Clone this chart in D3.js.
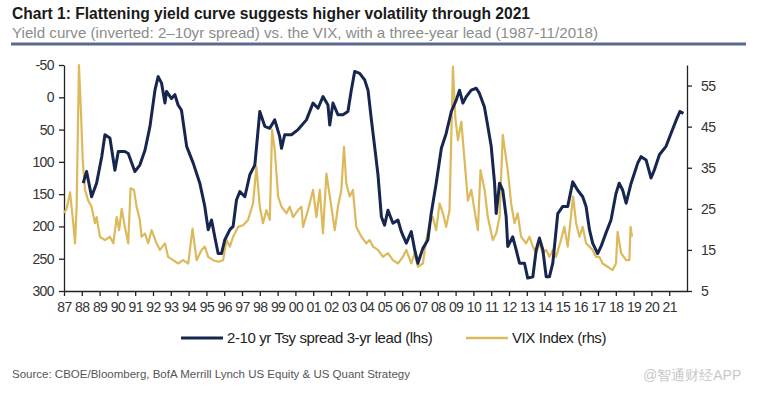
<!DOCTYPE html>
<html>
<head>
<meta charset="utf-8">
<script src="https://cdn.jsdelivr.net/npm/d3@7"></script>
<style>
  body { margin: 0; background: #fff; }
  svg text { font-family: "Liberation Sans", Arial, sans-serif; }
</style>
</head>
<body>
<svg id="chart" width="757" height="396"></svg>
<script>
// 2-10yr spread, 3-yr lead (lhs, bp, inverted axis)
const spreadYears = [1988.08, 1988.27, 1988.55, 1988.83, 1989.12, 1989.30, 1989.58, 1989.86, 1990.05, 1990.42,
  1990.61, 1990.98, 1991.26, 1991.55, 1991.83, 1992.11, 1992.29, 1992.48, 1992.67, 1992.76,
  1993.04, 1993.23, 1993.41, 1993.60, 1993.89, 1994.26, 1994.63, 1994.91, 1995.10, 1995.29,
  1995.47, 1995.66, 1995.85, 1996.03, 1996.32, 1996.50, 1996.69, 1996.88, 1997.16, 1997.44,
  1997.72, 1998.00, 1998.28, 1998.56, 1998.84, 1999.12, 1999.22, 1999.40, 1999.78, 2000.15,
  2000.62, 2000.99, 2001.27, 2001.55, 2001.83, 2001.93, 2002.11, 2002.39, 2002.67, 2002.95,
  2003.14, 2003.33, 2003.61, 2003.89, 2004.08, 2004.27, 2004.45, 2004.64, 2004.83, 2005.01,
  2005.20, 2005.48, 2005.76, 2005.95, 2006.23, 2006.51, 2006.70, 2006.88, 2007.16, 2007.44,
  2007.63, 2007.91, 2008.20, 2008.47, 2008.76, 2009.04, 2009.22, 2009.41, 2009.60, 2009.88,
  2010.16, 2010.34, 2010.62, 2010.81, 2011.00, 2011.19, 2011.28, 2011.47, 2011.65, 2011.84,
  2011.93, 2012.21, 2012.40, 2012.59, 2012.87, 2013.05, 2013.34, 2013.53, 2013.71, 2013.90,
  2014.09, 2014.27, 2014.46, 2014.74, 2015.02, 2015.30, 2015.58, 2015.86, 2016.14, 2016.33,
  2016.52, 2016.70, 2016.98, 2017.17, 2017.45, 2017.73, 2018.01, 2018.19, 2018.39, 2018.58,
  2018.86, 2019.04, 2019.23, 2019.42, 2019.70, 2019.98, 2020.16, 2020.45, 2020.82, 2021.10,
  2021.40, 2021.60, 2021.80];
const spreadValues = [133, 115, 154, 133, 92, 58, 63, 113, 84, 84,
  87, 115, 105, 82, 45, -11, -32, -22, 9, -9,
  2, -4, 12, 20, 76, 102, 133, 169, 205, 190,
  216, 242, 242, 221, 205, 200, 159, 146, 154, 120,
  105, 22, 45, 48, 35, 61, 79, 58, 58, 50,
  35, 9, 17, -1, 12, 43, 9, 27, 27, 22,
  -11, -40, -37, -27, -11, 35, 76, 120, 185, 198,
  175, 195, 190, 208, 226, 208, 236, 257, 234, 221,
  180, 133, 79, 56, 22, 4, -11, 9, -1, -11,
  -14, -6, 15, 45, 76, 133, 180, 133, 144, 185,
  231, 216, 236, 257, 257, 280, 278, 236, 218, 236,
  278, 278, 257, 180, 169, 169, 131, 144, 154, 169,
  205, 226, 242, 231, 210, 190, 149, 133, 144, 164,
  133, 118, 102, 92, 97, 125, 113, 89, 76, 56,
  35, 22, 25];

// VIX index (rhs)
const vixYears = [1987.00, 1987.15, 1987.34, 1987.52, 1987.62, 1987.71, 1987.84, 1987.95, 1988.05, 1988.18,
  1988.36, 1988.55, 1988.74, 1988.83, 1989.02, 1989.30, 1989.58, 1989.77, 1989.96, 1990.10,
  1990.24, 1990.42, 1990.61, 1990.74, 1990.93, 1991.08, 1991.26, 1991.36, 1991.55, 1991.73,
  1991.92, 1992.20, 1992.39, 1992.67, 1992.85, 1993.13, 1993.41, 1993.69, 1993.98, 1994.22,
  1994.45, 1994.73, 1994.91, 1995.10, 1995.38, 1995.66, 1995.94, 1996.13, 1996.32, 1996.50,
  1996.78, 1997.06, 1997.34, 1997.62, 1997.81, 1998.00, 1998.18, 1998.37, 1998.56, 1998.69,
  1998.84, 1999.03, 1999.22, 1999.50, 1999.68, 1999.87, 2000.15, 2000.34, 2000.43, 2000.71,
  2000.99, 2001.18, 2001.37, 2001.55, 2001.74, 2002.02, 2002.21, 2002.39, 2002.58, 2002.73,
  2002.86, 2003.05, 2003.23, 2003.42, 2003.71, 2003.99, 2004.17, 2004.36, 2004.64, 2004.92,
  2005.20, 2005.48, 2005.76, 2006.04, 2006.23, 2006.51, 2006.70, 2006.88, 2007.16, 2007.35,
  2007.54, 2007.72, 2007.91, 2008.10, 2008.29, 2008.47, 2008.66, 2008.85, 2008.98, 2009.13,
  2009.32, 2009.50, 2009.69, 2009.88, 2010.06, 2010.25, 2010.40, 2010.63, 2010.81, 2011.09,
  2011.28, 2011.47, 2011.65, 2011.93, 2012.12, 2012.31, 2012.49, 2012.68, 2012.96, 2013.15,
  2013.34, 2013.53, 2013.71, 2013.90, 2014.09, 2014.27, 2014.46, 2014.64, 2014.92, 2015.11,
  2015.30, 2015.60, 2015.77, 2015.96, 2016.14, 2016.33, 2016.52, 2016.70, 2016.89, 2017.08,
  2017.26, 2017.54, 2017.82, 2018.01, 2018.10, 2018.30, 2018.58, 2018.76, 2018.83, 2018.91];
const vixValues = [24, 25, 29, 21.5, 16.6, 25.5, 60, 49, 37, 29.6,
  27, 25.5, 21.5, 23, 18.2, 17.4, 18.2, 16.6, 23, 19.8,
  25, 20.6, 16.6, 30, 29.6, 25.5, 22.3, 18.2, 19, 16.6,
  19.8, 16.6, 15, 16.6, 13.3, 12.5, 11.7, 12.5, 11.7, 20.2,
  12.5, 15, 15.8, 13.3, 12.5, 12.1, 12.5, 17.4, 15.8, 18.2,
  20.6, 21, 22.3, 26.3, 35.2, 25.5, 21.5, 24.7, 22.3, 44.2,
  39.3, 28, 25.5, 23.9, 25.5, 23, 24.7, 25.5, 20.6, 24.7,
  29.6, 23, 29.6, 19, 33.6, 25.5, 19.8, 25.5, 29.6, 40.1,
  31.2, 28, 29.6, 20.6, 18.2, 16.6, 17.4, 15.8, 15, 13.3,
  14.2, 12.5, 11.7, 13.3, 15, 11.7, 14.2, 10.9, 11.7, 17.4,
  21.5, 23, 19.8, 26.3, 23.9, 20.6, 24.7, 59.6, 47.4, 41.7,
  46.2, 36.9, 27, 29.6, 24.7, 19.8, 34.4, 29.6, 23, 17.4,
  19, 23, 43, 34.4, 26.3, 21.5, 23.9, 18.2, 16.6, 18.2,
  15.8, 14.2, 16.6, 14.2, 15, 13.3, 15, 13.3, 17.4, 20.6,
  15.8, 28, 21.5, 18.2, 20.6, 16.6, 15.8, 15, 13.3, 13.3,
  11.7, 10.9, 10.1, 11.7, 19.4, 14.2, 12.5, 12.5, 20.6, 18.2];

const yearTicks = d3.range(1987, 2022);
const leftTicks = [-50, 0, 50, 100, 150, 200, 250, 300];
const rightTicks = [5, 15, 25, 35, 45, 55];

const title = "Chart 1: Flattening yield curve suggests higher volatility through 2021";
const subtitle = "Yield curve (inverted: 2\u201310yr spread) vs. the VIX, with a three-year lead (1987-11/2018)";
const source = "Source: CBOE/Bloomberg, BofA Merrill Lynch US Equity & US Quant Strategy";
const legendNames = ["2-10 yr Tsy spread 3-yr lead (lhs)", "VIX Index (rhs)"];

const navy = "#17264f";
const gold = "#dcb95a";

const svg = d3.select("#chart");
const plot = { left: 64, right: 687, top: 65, bottom: 291 };

const x = d3.scaleLinear().domain([1987, 2022]).range([plot.left, plot.right]);
const yL = d3.scaleLinear().domain([-50, 300]).range([plot.top, plot.bottom]);
const yR = d3.scaleLinear().domain([5, 60]).range([plot.bottom, plot.top]);

// header
svg.append("text").attr("x", 12).attr("y", 19)
  .attr("font-size", 16).attr("font-weight", "bold").attr("fill", "#1a1a1a")
  .attr("textLength", 518).attr("lengthAdjust", "spacingAndGlyphs")
  .text(title);
svg.append("text").attr("x", 12).attr("y", 38)
  .attr("font-size", 15).attr("fill", "#8c8c8c")
  .attr("textLength", 586).attr("lengthAdjust", "spacingAndGlyphs")
  .text(subtitle);
svg.append("line").attr("x1", 11).attr("x2", 746).attr("y1", 44).attr("y2", 44)
  .attr("stroke", "#5a6a8c").attr("stroke-width", 3);

// axes
const xAxis = d3.axisBottom(x).tickValues(yearTicks).tickSize(5).tickSizeOuter(0)
  .tickFormat(d => String(d % 100).padStart(2, "0"));
const gx = svg.append("g").attr("transform", `translate(0,${plot.bottom})`).call(xAxis);
gx.selectAll("text").attr("font-size", 14).attr("letter-spacing", -0.6).attr("dy", "0.95em");

const gl = svg.append("g").attr("transform", `translate(${plot.left},0)`)
  .call(d3.axisLeft(yL).tickValues(leftTicks).tickSize(5).tickSizeOuter(0).tickFormat(d => String(d)));
gl.selectAll("text").attr("font-size", 14).attr("x", -10).attr("letter-spacing", -0.6);

const gr = svg.append("g").attr("transform", `translate(${plot.right},0)`)
  .call(d3.axisRight(yR).tickValues(rightTicks).tickSize(5).tickSizeOuter(0));
gr.selectAll("text").attr("font-size", 14).attr("x", 14).attr("letter-spacing", -0.6);

svg.selectAll(".domain").attr("stroke", "#222").attr("stroke-width", 1.3);
svg.selectAll(".tick line").attr("stroke", "#222").attr("stroke-width", 1.3);
svg.selectAll(".tick text").attr("fill", "#333");

// lines
const vixData = vixYears.map((t, i) => [t, vixValues[i]]);
const spreadData = spreadYears.map((t, i) => [t, spreadValues[i]]);

svg.append("path").datum(vixData)
  .attr("fill", "none").attr("stroke", gold).attr("stroke-width", 2.2)
  .attr("stroke-linejoin", "round")
  .attr("d", d3.line().x(d => x(d[0])).y(d => yR(d[1])));

svg.append("path").datum(spreadData)
  .attr("fill", "none").attr("stroke", navy).attr("stroke-width", 3)
  .attr("stroke-linejoin", "round")
  .attr("d", d3.line().x(d => x(d[0])).y(d => yL(d[1])));

// legend
const legend = svg.append("g").attr("font-size", 15).attr("fill", "#222");
const legendItems = [
  { name: legendNames[0], color: navy, x0: 181, w: 3 },
  { name: legendNames[1], color: gold, x0: 466, w: 2.5 }
];
legendItems.forEach(it => {
  legend.append("line").attr("x1", it.x0).attr("x2", it.x0 + 42).attr("y1", 338).attr("y2", 338)
    .attr("stroke", it.color).attr("stroke-width", it.w);
  legend.append("text").attr("x", it.x0 + 46).attr("y", 343).attr("letter-spacing", -0.4).text(it.name);
});

// footer
svg.append("text").attr("x", 12).attr("y", 378).attr("font-size", 10.5).attr("fill", "#555")
  .attr("textLength", 398).attr("lengthAdjust", "spacingAndGlyphs")
  .text(source);
svg.append("text").attr("x", 643).attr("y", 380).attr("font-size", 14).attr("fill", "#c8c8c8")
  .attr("font-family", "'Noto Sans CJK SC', sans-serif")
  .text("@智通财经APP");
</script>
</body>
</html>
